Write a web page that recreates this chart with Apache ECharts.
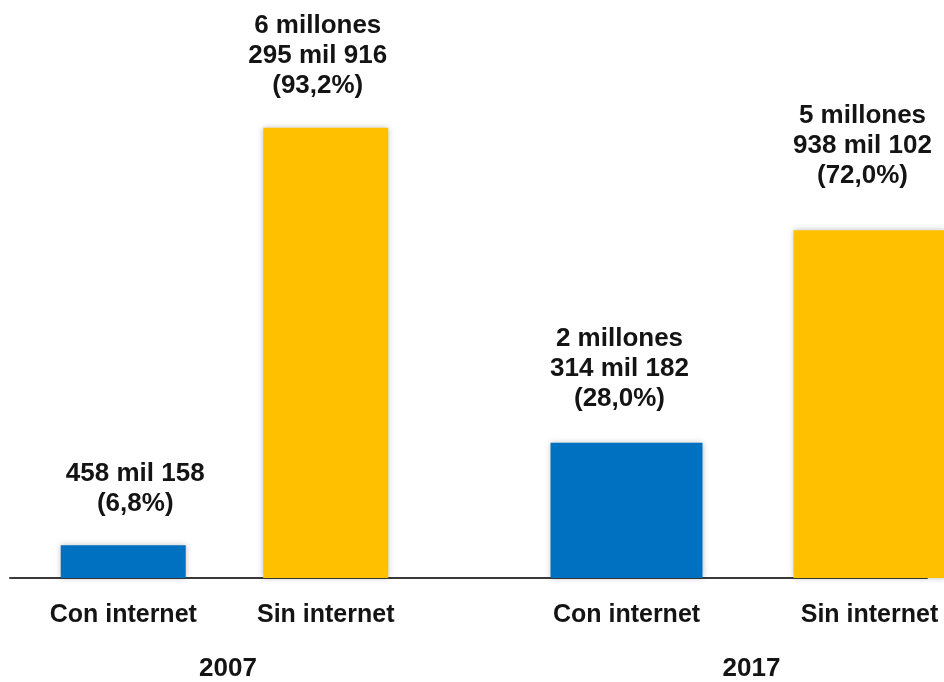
<!DOCTYPE html>
<html>
<head>
<meta charset="utf-8">
<script src="https://cdn.jsdelivr.net/npm/echarts@6/dist/echarts.min.js"></script>
<style>
  html, body { margin: 0; padding: 0; background: #ffffff; }
  #chart { width: 944px; height: 682px; }
</style>
</head>
<body>
<div id="chart"></div>
<script>
// ---- Data ----
const years = ['2007', '2017'];
const categories = ['Con internet', 'Sin internet'];
const households2007 = [458158, 6295916];
const households2017 = [2314182, 5938102];
const percent2007 = [6.8, 93.2];
const percent2017 = [28.0, 72.0];

// ---- Layout / style (not data) ----
const barColors = ['#0070C0', '#FFC000'];
const textColor = '#141414';
const fontFamily = '"Liberation Sans", Arial, sans-serif';
const gridTop = 95, gridBottom = 104;
const yearGrids = [
  { left: 22, width: 405, barWidth: 125 },
  { left: 505, width: 486, barWidth: 152 }
];
const labelOffsets = [[[12, 0], [-8, 0]], [[-7, 0], [-7, 0]]];
const labelDistances = [[26, 27], [29, 39]];

function formatHouseholds(v) {
  const m = Math.floor(v / 1e6);
  const k = Math.floor((v % 1e6) / 1000);
  const u = v % 1000;
  const parts = [];
  if (m > 0) parts.push(m + ' millones');
  parts.push(k + ' mil ' + u);
  return parts.join('\n');
}
function formatPercent(p) {
  return '(' + p.toFixed(1).replace('.', ',') + '%)';
}

const allHouseholds = [households2007, households2017];
const allPercents = [percent2007, percent2017];

const grids = [], xAxes = [], yAxes = [], series = [];
yearGrids.forEach(function (g, gi) {
  grids.push({ left: g.left, width: g.width, top: gridTop, bottom: gridBottom,
               outerBoundsMode: 'none', containLabel: false });
  xAxes.push({
    type: 'category',
    gridIndex: gi,
    data: categories,
    axisLine: { show: false },
    axisTick: { show: false },
    axisLabel: {
      margin: 25,
      color: textColor,
      fontSize: 25,
      fontWeight: 'bold',
      fontFamily: fontFamily
    },
    name: years[gi],
    nameLocation: 'middle',
    nameGap: 78,
    nameTextStyle: {
      color: textColor,
      fontSize: 26,
      fontWeight: 'bold',
      fontFamily: fontFamily,
      padding: [0, 0, 0, 7]
    }
  });
  yAxes.push({ type: 'value', gridIndex: gi, min: 0, max: 100, show: false });
  series.push({
    type: 'bar',
    xAxisIndex: gi,
    yAxisIndex: gi,
    barWidth: g.barWidth,
    data: allPercents[gi].map(function (p, i) {
      return {
        value: p,
        itemStyle: { color: barColors[i] },
        label: {
          offset: labelOffsets[gi][i],
          distance: labelDistances[gi][i]
        }
      };
    }),
    itemStyle: {
      shadowBlur: 6,
      shadowColor: 'rgba(0,0,0,0.25)'
    },
    label: {
      show: true,
      position: 'top',
      color: textColor,
      fontSize: 26,
      fontWeight: 'bold',
      fontFamily: fontFamily,
      lineHeight: 30,
      align: 'center',
      formatter: function (params) {
        return formatHouseholds(allHouseholds[gi][params.dataIndex]) + '\n' +
               formatPercent(allPercents[gi][params.dataIndex]);
      }
    }
  });
});

// baseline axis grid spanning the whole chart
grids.push({ left: 10, right: 17, top: gridTop, bottom: gridBottom,
             outerBoundsMode: 'none', containLabel: false });
xAxes.push({
  type: 'value', gridIndex: 2, min: 0, max: 1,
  axisLine: { show: true, lineStyle: { color: '#3a3a3a', width: 2 } },
  axisTick: { show: false }, axisLabel: { show: false }, splitLine: { show: false }
});
yAxes.push({ type: 'value', gridIndex: 2, show: false, min: 0, max: 100 });

const chart = echarts.init(document.getElementById('chart'), null, { renderer: 'canvas' });
chart.setOption({
  animation: false,
  backgroundColor: '#ffffff',
  grid: grids,
  xAxis: xAxes,
  yAxis: yAxes,
  series: series
});
</script>
</body>
</html>
